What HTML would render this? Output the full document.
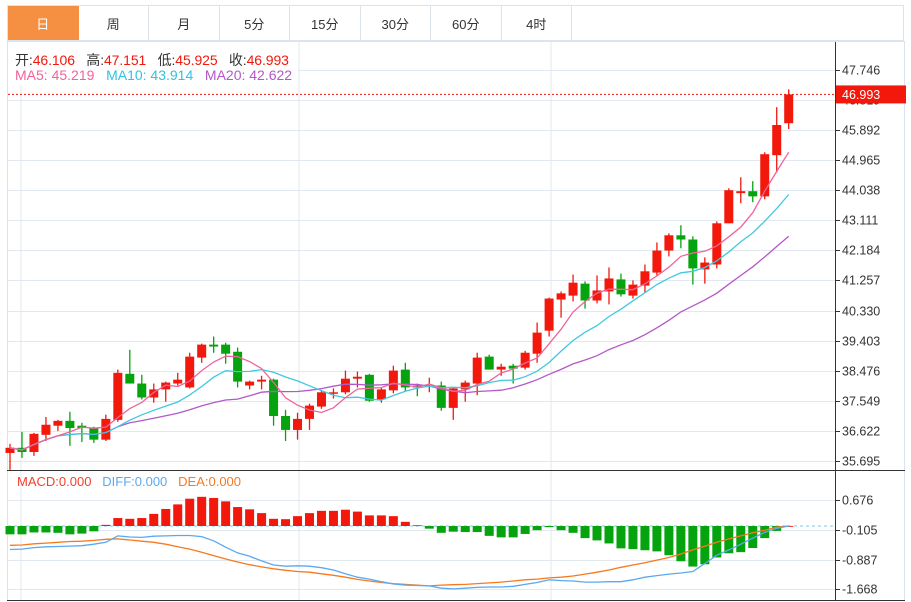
<!DOCTYPE html>
<html><head><meta charset="utf-8"><style>
html,body{margin:0;padding:0;background:#fff;width:911px;height:602px;overflow:hidden}
body{font-family:"Liberation Sans","Noto Sans CJK SC",sans-serif;position:relative}
.tabs{position:absolute;left:7px;top:5px;height:36px;width:897px;border:1px solid #dde3ea;box-sizing:border-box;display:flex;background:#fff}
.tab{width:70.5px;height:100%;border-right:1px solid #dde3ea;box-sizing:border-box;font-size:13px;color:#333;display:flex;align-items:center;justify-content:center}
.tab.on{background:#f59042;color:#fff;border-right-color:#f59042}
svg{position:absolute;left:0;top:0}
</style></head><body>
<div class="tabs">
<div class="tab on">日</div>
<div class="tab">周</div>
<div class="tab">月</div>
<div class="tab">5分</div>
<div class="tab">15分</div>
<div class="tab">30分</div>
<div class="tab">60分</div>
<div class="tab">4时</div>
</div>
<svg id="chart" width="911" height="602"></svg>
<script>
const opens=[35.94,36.10,35.97,36.50,36.78,36.93,36.78,36.71,36.35,36.96,38.38,38.08,37.65,37.90,38.08,37.96,38.88,39.28,39.28,39.06,38.02,38.14,38.20,37.08,36.65,36.99,37.37,37.78,37.81,38.23,38.35,37.59,37.87,38.51,38.02,37.99,38.02,37.33,37.90,38.08,38.91,38.51,38.63,38.57,39.00,39.71,40.67,40.79,41.16,40.64,40.92,41.29,40.79,41.10,41.50,42.18,42.65,42.52,41.60,41.75,43.02,43.95,44.01,43.85,45.12,46.106];
const highs=[36.22,36.59,36.56,37.05,36.96,37.21,36.87,36.75,37.12,38.51,39.12,38.35,38.08,38.14,38.41,39.03,39.31,39.53,39.34,39.19,38.17,38.32,38.23,37.27,37.18,37.46,37.87,37.93,38.48,38.45,38.38,37.96,38.63,38.72,38.08,38.26,38.14,37.96,38.17,39.03,38.97,38.69,38.69,39.09,39.96,40.73,40.92,41.44,41.23,41.41,41.66,41.47,41.26,41.75,42.43,42.71,42.96,42.62,41.97,43.08,44.10,44.44,44.32,45.21,46.60,47.151];
const lows=[35.42,35.79,35.85,36.31,36.62,36.16,36.28,36.25,36.31,36.90,38.08,37.59,37.49,37.52,38.02,37.93,38.72,39.03,38.69,37.96,37.90,37.90,36.78,36.31,36.35,36.65,37.30,37.62,37.75,37.96,37.52,37.49,37.78,37.84,37.69,37.81,37.24,36.96,37.52,37.72,38.51,38.32,38.08,38.51,38.72,39.53,40.11,40.61,40.39,40.55,40.52,40.76,40.70,40.89,41.41,42.00,42.25,41.13,41.16,41.63,43.02,43.64,43.67,43.76,44.59,45.925];
const closes=[36.10,35.97,36.53,36.81,36.93,36.71,36.71,36.35,36.99,38.41,38.08,37.65,37.90,38.11,38.20,38.91,39.28,39.22,39.00,38.14,38.14,38.20,37.08,36.65,36.99,37.40,37.81,37.81,38.23,38.29,37.55,37.90,38.48,37.96,37.96,38.02,37.33,37.93,38.11,38.88,38.51,38.60,38.54,39.03,39.65,40.70,40.86,41.19,40.64,40.95,41.32,40.83,41.13,41.54,42.18,42.65,42.52,41.63,41.81,43.02,44.04,44.01,43.85,45.15,46.05,46.993];
const priceTicks=[47.746,46.819,45.892,44.965,44.038,43.111,42.184,41.257,40.330,39.403,38.476,37.549,36.622,35.695];
const macdHist=[-0.22,-0.22,-0.17,-0.17,-0.18,-0.22,-0.20,-0.14,0.03,0.21,0.19,0.21,0.32,0.45,0.57,0.72,0.77,0.74,0.65,0.50,0.44,0.34,0.19,0.18,0.26,0.34,0.40,0.40,0.43,0.38,0.28,0.28,0.26,0.11,0.02,-0.07,-0.18,-0.15,-0.16,-0.16,-0.26,-0.30,-0.30,-0.21,-0.11,-0.03,-0.11,-0.18,-0.32,-0.38,-0.46,-0.59,-0.61,-0.64,-0.67,-0.77,-0.93,-1.07,-1.01,-0.83,-0.72,-0.69,-0.58,-0.32,-0.13,0.0];
const diffVals=[-0.62,-0.61,-0.57,-0.55,-0.54,-0.53,-0.52,-0.48,-0.43,-0.26,-0.29,-0.30,-0.27,-0.26,-0.25,-0.25,-0.28,-0.39,-0.56,-0.71,-0.80,-0.92,-1.03,-1.06,-1.05,-1.06,-1.10,-1.16,-1.26,-1.35,-1.40,-1.47,-1.53,-1.56,-1.57,-1.58,-1.64,-1.66,-1.64,-1.62,-1.61,-1.61,-1.59,-1.54,-1.49,-1.42,-1.44,-1.45,-1.48,-1.48,-1.47,-1.47,-1.42,-1.35,-1.31,-1.27,-1.24,-1.20,-0.99,-0.77,-0.63,-0.48,-0.32,-0.17,-0.06,0.0];
const deaVals=[-0.51,-0.50,-0.47,-0.45,-0.43,-0.41,-0.40,-0.38,-0.35,-0.34,-0.37,-0.40,-0.43,-0.48,-0.55,-0.61,-0.69,-0.78,-0.87,-0.95,-1.02,-1.08,-1.13,-1.17,-1.20,-1.22,-1.26,-1.30,-1.35,-1.41,-1.45,-1.49,-1.52,-1.54,-1.56,-1.58,-1.56,-1.55,-1.54,-1.52,-1.50,-1.48,-1.45,-1.42,-1.40,-1.37,-1.35,-1.32,-1.27,-1.22,-1.16,-1.09,-1.03,-0.97,-0.90,-0.83,-0.74,-0.63,-0.53,-0.43,-0.34,-0.26,-0.18,-0.11,-0.03,0.0];
const macdTicks=[0.676,-0.105,-0.887,-1.668];

const svg=document.getElementById('chart');
const NS='http://www.w3.org/2000/svg';
function mk(tag,attrs,parent){const e=document.createElementNS(NS,tag);for(const k in attrs)e.setAttribute(k,attrs[k]);(parent||svg).appendChild(e);return e;}
const xOf=i=>10+i*11.98;
const yP=v=>70+(47.746-v)/0.927*30.07;
const yM=v=>526-v*37.9;
const RED='#f2180c',GREEN='#05a30d';

let g=mk('g',{});


mk('rect',{x:7.5,y:41.5,width:897,height:559,fill:'none',stroke:'#dde3ea'},g);
[21,299,551].forEach(x=>{mk('line',{x1:x,y1:42,x2:x,y2:600,stroke:'#e1e8ef'},g);});
priceTicks.forEach(t=>{const y=Math.round(yP(t))+0.5;mk('line',{x1:8,y1:y,x2:835,y2:y,stroke:'#e1e8ef'},g);});
macdTicks.forEach(t=>{const y=Math.round(yM(t))+0.5;mk('line',{x1:8,y1:y,x2:835,y2:y,stroke:'#e1e8ef'},g);});
mk('rect',{x:8,y:42,width:290,height:43,fill:'#fff'},g);
mk('line',{x1:7,y1:470.5,x2:905,y2:470.5,stroke:'#333'},g);
mk('line',{x1:7,y1:600.5,x2:905,y2:600.5,stroke:'#333'},g);
mk('line',{x1:835.5,y1:42,x2:835.5,y2:601,stroke:'#333'},g);

let ax=mk('g',{'font-size':'12.5','fill':'#333','font-family':'Liberation Sans, sans-serif'});


priceTicks.forEach(t=>{const y=Math.round(yP(t))+0.5;mk('line',{x1:835,y1:y,x2:840,y2:y,stroke:'#333'},ax);const tx=mk('text',{x:842,y:y+4},ax);tx.textContent=t.toFixed(3);});
let ax2=mk('g',{'font-size':'12.5','fill':'#333','font-family':'Liberation Sans, sans-serif'});


macdTicks.forEach(t=>{const y=Math.round(yM(t))+0.5;mk('line',{x1:835,y1:y,x2:840,y2:y,stroke:'#333'},ax2);const tx=mk('text',{x:842,y:y+4},ax2);tx.textContent=t.toFixed(3);});

let cg=mk('g',{});


closes.forEach((c,i)=>{
  const o=opens[i],col=c>=o?RED:GREEN,x=xOf(i);
  const e=mk('g',{},cg);
  
  
  mk('line',{x1:x,y1:yP(highs[i]),x2:x,y2:yP(lows[i]),stroke:col,'stroke-width':1.3},e);
  const top=yP(Math.max(o,c)),bot=yP(Math.min(o,c));
  mk('rect',{x:x-4.5,y:top,width:9,height:Math.max(1.5,bot-top),fill:col},e);
});

function ma(n){return closes.map((c,i)=>{const s=closes.slice(Math.max(0,i-n+1),i+1);return s.reduce((a,b)=>a+b,0)/s.length;});}
function line(vals,fy,color,name,w){const p=mk('polyline',{points:vals.map((v,i)=>xOf(i)+','+fy(v).toFixed(1)).join(' '),fill:'none',stroke:color,'stroke-width':w||1.3});return p;}
line(ma(20),yP,'#b458c8','ma20-line');
line(ma(10),yP,'#40c8df','ma10-line');
line(ma(5),yP,'#f0649a','ma5-line');

const lp=closes[closes.length-1];
let pl=mk('line',{x1:8,y1:yP(lp),x2:835,y2:yP(lp),stroke:RED,'stroke-dasharray':'2,2'});


let pb=mk('rect',{x:836,y:yP(lp)-9,width:70,height:18,fill:RED});


let pt=mk('text',{x:842,y:yP(lp)+4.5,'font-size':'12.5',fill:'#fff'});
pt.textContent=lp.toFixed(3);

let zl=mk('line',{x1:8,y1:yM(0),x2:835,y2:yM(0),stroke:'#a9dcef','stroke-dasharray':'3,3','stroke-width':1.5});


let hg=mk('g',{});


macdHist.forEach((v,i)=>{const y0=yM(0),y1=yM(v);const r=mk('rect',{x:xOf(i)-4.5,y:Math.min(y0,y1),width:9,height:Math.max(0.8,Math.abs(y1-y0)),fill:v>=0?RED:GREEN},hg);

});
line(deaVals,yM,'#f7791e','dea-line');
line(diffVals,yM,'#5aa9ee','diff-line');
</script>
<div style="position:absolute;left:15px;top:50px;font-size:14px;color:#333;white-space:nowrap;letter-spacing:-0.1px">开:<span style="color:#f2180c">46.106</span>&nbsp;&nbsp; 高:<span style="color:#f2180c">47.151</span>&nbsp;&nbsp; 低:<span style="color:#f2180c">45.925</span>&nbsp;&nbsp; 收:<span style="color:#f2180c">46.993</span></div>
<div style="position:absolute;left:15px;top:67px;font-size:14px;white-space:nowrap"><span style="color:#f0649a">MA5: 45.219</span>&nbsp;&nbsp; <span style="color:#2fc3de">MA10: 43.914</span>&nbsp;&nbsp; <span style="color:#b458c8">MA20: 42.622</span></div>
<div style="position:absolute;left:17px;top:474px;font-size:13px;white-space:nowrap"><span style="color:#f2402c">MACD:0.000</span>&nbsp;&nbsp; <span style="color:#5aa9ee">DIFF:0.000</span>&nbsp;&nbsp; <span style="color:#f7791e">DEA:0.000</span></div>
</body></html>
